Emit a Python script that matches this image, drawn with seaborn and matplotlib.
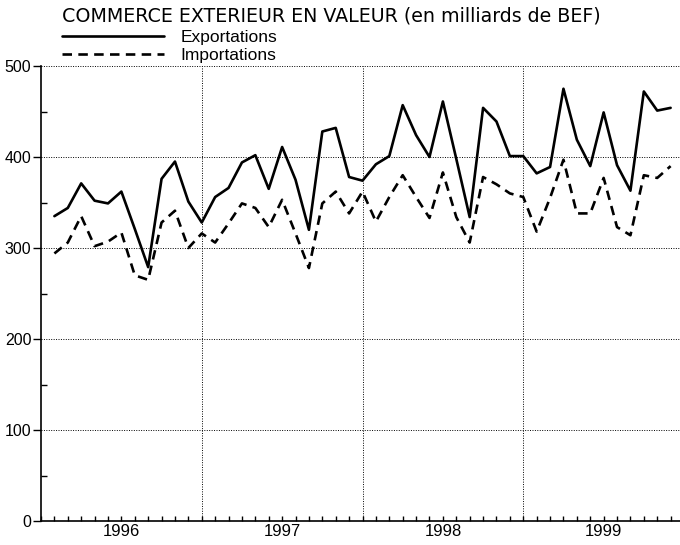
import numpy as np
import pandas as pd
import matplotlib
matplotlib.use("Agg")
import matplotlib.pyplot as plt
import seaborn as sns

# monthly values, Jan 1996 - Nov 1999 (milliards de BEF)
years = ["1996", "1997", "1998", "1999"]
exportations = [335, 344, 371, 352, 349, 362, 321, 279, 376, 395, 351, 328,
                356, 366, 394, 402, 365, 411, 375, 320, 428, 432, 378, 374,
                392, 401, 457, 424, 400, 461, 398, 334, 454, 439, 401, 401,
                382, 389, 475, 419, 390, 449, 391, 363, 472, 451, 454]
importations = [294, 306, 335, 302, 307, 317, 270, 265, 328, 341, 300, 316,
                306, 327, 349, 344, 323, 353, 316, 278, 349, 362, 338, 362,
                329, 356, 380, 356, 333, 383, 334, 306, 378, 370, 360, 356,
                318, 355, 397, 338, 338, 377, 323, 314, 380, 377, 390]
series_names = ["Exportations", "Importations"]
title = "COMMERCE EXTERIEUR EN VALEUR (en milliards de BEF)"

months = np.arange(1, len(exportations) + 1)
df = pd.DataFrame({
    "mois": np.concatenate([months, months]),
    "valeur": exportations + importations,
    "serie": [series_names[0]] * len(months) + [series_names[1]] * len(months),
})

sns.set_style("white")
plt.rcParams["font.family"] = ["Liberation Sans", "DejaVu Sans"]
plt.rcParams["text.color"] = "black"

fig = plt.figure(figsize=(6.8, 5.45), dpi=100)
ax = fig.add_axes([41 / 680, 24 / 545, 639 / 680, 455 / 545])

sns.lineplot(data=df, x="mois", y="valeur", style="serie", style_order=series_names,
             dashes={"Exportations": "", "Importations": (3.6, 2.4)},
             color="black", linewidth=1.9, legend=False, ax=ax)

ax.set_xlim(0, 47.7)
ax.set_ylim(0, 500)
ax.set_xlabel("")
ax.set_ylabel("")

# y axis: labelled ticks outside, half-way ticks inside
ax.set_yticks(np.arange(0, 501, 100))
ax.set_yticks(np.arange(50, 500, 100), minor=True)
ax.yaxis.grid(True, which="major", linestyle=(0, (1, 1.5)), color="black", linewidth=0.7)

# x axis: year labels centred (major), one tick per month (minor)
ax.set_xticks([6, 18, 30, 42])
ax.set_xticklabels(years)
ax.set_xticks(np.arange(0, 48), minor=True)
for b in [12, 24, 36]:
    ax.axvline(b, color="black", linestyle=(0, (1, 1.5)), linewidth=0.7)

ax.tick_params(axis="both", which="both", left=True, bottom=True, color="black",
               labelcolor="black", width=1)
ax.tick_params(axis="y", which="major", direction="out", length=6, pad=1, labelsize=11.5)
ax.tick_params(axis="y", which="minor", direction="in", length=4)
ax.tick_params(axis="x", which="both", direction="in", length=3.5, pad=2, labelsize=12)

for s in ["top", "right"]:
    ax.spines[s].set_visible(False)
for s in ["left", "bottom"]:
    ax.spines[s].set_color("black")
    ax.spines[s].set_linewidth(1.2)

fig.text(62 / 680, 1 - 16 / 545, title, fontsize=13.7, va="center", ha="left",
         family="DejaVu Sans")

lines = ax.get_lines()[:2]
ax.legend(lines, series_names, loc="upper left", bbox_to_anchor=(62 / 680, 1 - 30 / 545),
          bbox_transform=fig.transFigure, frameon=False, fontsize=12.5,
          handlelength=5.9, handletextpad=0.92, labelspacing=0.15, borderpad=0,
          borderaxespad=0)

fig.savefig("out.png", dpi=100)
